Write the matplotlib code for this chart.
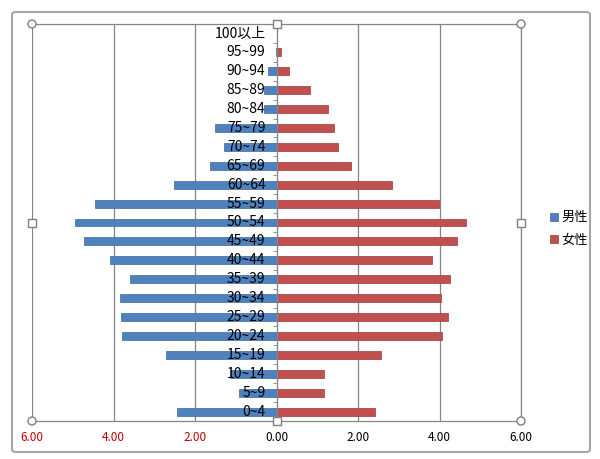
import matplotlib
matplotlib.use("Agg")
import matplotlib.pyplot as plt
import matplotlib.transforms as mtransforms
import numpy as np
from matplotlib.patches import FancyBboxPatch, Circle, Rectangle

plt.rcParams['font.family'] = ['Noto Sans CJK TC', 'DejaVu Sans']

categories = ["0~4", "5~9", "10~14", "15~19", "20~24", "25~29", "30~34", "35~39",
              "40~44", "45~49", "50~54", "55~59", "60~64", "65~69", "70~74",
              "75~79", "80~84", "85~89", "90~94", "95~99", "100以上"]
male = [2.43, 0.93, 1.15, 2.70, 3.80, 3.82, 3.85, 3.60,
        4.09, 4.73, 4.95, 4.46, 2.52, 1.64, 1.30,
        1.52, 0.30, 0.30, 0.20, 0.01, 0.0]
female = [2.42, 1.17, 1.17, 2.56, 4.06, 4.21, 4.04, 4.25,
          3.82, 4.44, 4.66, 3.99, 2.84, 1.84, 1.50,
          1.42, 1.27, 0.83, 0.31, 0.12, 0.02]
xticks = [-6, -4, -2, 0, 2, 4, 6]
series_names = ["男性", "女性"]

blue = "#4F81BD"
red = "#C0504D"

fig = plt.figure(figsize=(6.0, 4.59), dpi=100)
fig.patch.set_facecolor("white")

# chart frame
frame = FancyBboxPatch((12/600, 1-452/459), 578/600, 440/459,
                       boxstyle="round,pad=0,rounding_size=0.006",
                       transform=fig.transFigure, facecolor="none",
                       edgecolor="#a6a6a6", linewidth=1.5, zorder=-5)
fig.patches.append(frame)

ax = fig.add_axes([32/600, 1-421/459, 489/600, 397/459])
ax.patch.set_alpha(0)
y = np.arange(len(categories))
ax.barh(y, -np.array(male), height=0.42, color=blue, edgecolor="#3b6aa0",
        linewidth=0.5, label=series_names[0], zorder=3)
ax.barh(y, female, height=0.42, color=red, edgecolor="#9c3a38",
        linewidth=0.5, label=series_names[1], zorder=3)

ax.set_xlim(-6, 6)
ax.set_ylim(-0.5, len(categories) - 0.5)
ax.set_xticks(xticks)
ax.set_xticklabels([f"{abs(v):.2f}" for v in xticks], fontsize=8.5)
for lbl, v in zip(ax.get_xticklabels(), xticks):
    lbl.set_color("#c00000" if v < 0 else "black")
ax.tick_params(axis='x', length=0, pad=7)

ax.grid(axis='x', color="#868686", linewidth=0.9)
ax.set_axisbelow(True)

ax.spines['left'].set_position(('data', 0))
ax.spines['left'].set_color("#868686")
ax.spines['left'].set_zorder(4)
for s in ['top', 'right', 'bottom']:
    ax.spines[s].set_color("#868686")
    ax.spines[s].set_linewidth(0.9)

ax.set_yticks(y)
ax.set_yticklabels([])
ax.tick_params(axis='y', which='major', length=0)
ax.set_yticks(np.arange(-0.5, len(categories)), minor=True)
ax.tick_params(axis='y', which='minor', length=3, color="#868686", direction='out')

# category labels drawn above the bars
offset = mtransforms.ScaledTranslation(-8/72, 0, fig.dpi_scale_trans)
for yi, cat in zip(y, categories):
    ax.text(0, yi, cat, transform=ax.transData + offset, ha='right', va='center',
            fontsize=10, color="black", zorder=6)

# selection handles
for (hx, hy, kind) in [(0, 0, 'c'), (1, 0, 'c'), (0, 1, 'c'), (1, 1, 'c'),
                       (0.5, 0, 's'), (0.5, 1, 's'), (0, 0.5, 's'), (1, 0.5, 's')]:
    px = 32 + hx * 489
    py = 459 - (421 - hy * 397)
    if kind == 'c':
        fig.patches.append(Circle((px, py), 4, transform=None,
                                  facecolor="white", edgecolor="#7f7f7f",
                                  linewidth=1.0, zorder=10))
    else:
        fig.patches.append(Rectangle((px - 4, py - 4), 8, 8,
                                     transform=None, facecolor="white",
                                     edgecolor="#7f7f7f", linewidth=1.0, zorder=10))

leg = fig.legend(loc='center left', bbox_to_anchor=(538/600, 1-229/459),
                 frameon=False, fontsize=9.5, handlelength=0.6, handleheight=0.6,
                 handletextpad=0.3, labelspacing=0.7)

fig.savefig("out.png", dpi=100)
